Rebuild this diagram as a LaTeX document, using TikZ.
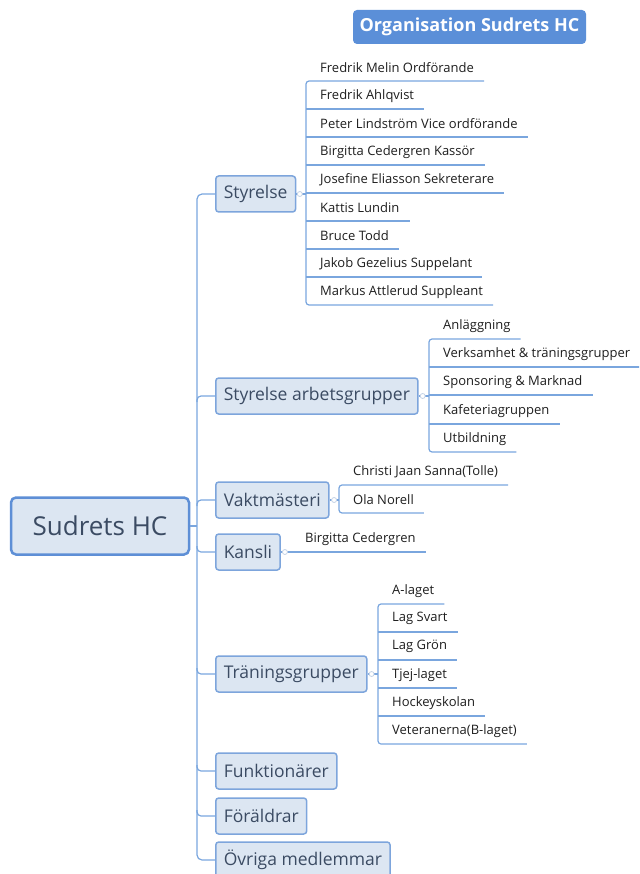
\documentclass[tikz,border=0pt]{standalone}
\usepackage{fontspec}
\setmainfont{Open Sans}
\usetikzlibrary{calc}
\definecolor{linec}{HTML}{7AA6DE}
\definecolor{boxf}{HTML}{DCE6F2}
\definecolor{boxd}{HTML}{7DA5DC}
\definecolor{rootd}{HTML}{5E8FD6}
\definecolor{titlef}{HTML}{5B8FD8}
\definecolor{btext}{HTML}{3B4B63}
\definecolor{ltext}{HTML}{1E1E1E}
\definecolor{knob}{HTML}{C5D3E6}
\begin{document}
\begin{tikzpicture}[x=1pt,y=-1pt,
 conn/.style={draw=linec, line width=1.2pt},
 branch/.style={anchor=west, draw=boxd, fill=boxf, line width=1.5pt, rounded corners=3pt, inner xsep=8pt, minimum height=36pt, font=\fontsize{17.5}{20}\selectfont, text=btext},
 leafbase/.style={anchor=south west, inner ysep=0pt, inner xsep=0pt, minimum height=26pt, font=\fontsize{13}{15}\selectfont, text=ltext, execute at end node={\hspace*{10pt}}},
 leaf/.style={leafbase, execute at begin node={\hspace*{14pt}}},
 kleaf/.style={leafbase, execute at begin node={\hspace*{10pt}}},
 knobst/.style={circle, draw=knob, fill=white, line width=0.8pt, inner sep=0pt, minimum size=5pt},
]
\useasboundingbox (0,0) rectangle (639,874);
\clip (0,0) rectangle (639,874);

% title
\node[fill=titlef, rounded corners=4pt, text=white, font=\bfseries\fontsize{18}{20}\selectfont, minimum width=233pt, minimum height=34pt, inner sep=0pt] (title) at (469.5,27) {Organisation Sudrets HC};

% root
\node[draw=rootd, line width=2.5pt, fill=boxf, rounded corners=5pt, minimum width=178pt, minimum height=57pt, font=\fontsize{26}{30}\selectfont, text=btext] (root) at (100,526) {Sudrets HC};

% branches
\node[branch] (sty) at (215,194) {Styrelse};
\node[branch] (sab) at (215,396) {Styrelse arbetsgrupper};
\node[branch] (vak) at (215,500) {Vaktmästeri};
\node[branch] (kan) at (215,552) {Kansli};
\node[branch] (tra) at (215,674) {Träningsgrupper};
\node[branch] (fun) at (215,771) {Funktionärer};
\node[branch] (for) at (215,816) {Föräldrar};
\node[branch] (ovr) at (215,860) {Övriga medlemmar};

% spine
\coordinate (sptop) at (197,194);
\coordinate (spbot) at (197,860);
\draw[conn, rounded corners=5pt] (sty.west) -- (sptop) -- (spbot) -- (ovr.west);
\draw[conn] (root.east) -- (root.east -| sptop);
\draw[conn, rounded corners=4pt] ($(sab.west -| sptop)+(0,6)$) -- (sab.west -| sptop) -- (sab.west);
\draw[conn, rounded corners=4pt] ($(vak.west -| sptop)+(0,6)$) -- (vak.west -| sptop) -- (vak.west);
\draw[conn, rounded corners=4pt] ($(kan.west -| sptop)+(0,-6)$) -- (kan.west -| sptop) -- (kan.west);
\draw[conn, rounded corners=4pt] ($(tra.west -| sptop)+(0,-6)$) -- (tra.west -| sptop) -- (tra.west);
\draw[conn, rounded corners=4pt] ($(fun.west -| sptop)+(0,-6)$) -- (fun.west -| sptop) -- (fun.west);
\draw[conn, rounded corners=4pt] ($(for.west -| sptop)+(0,-6)$) -- (for.west -| sptop) -- (for.west);

% Styrelse leaves
\node[leaf] (s1) at (306,81) {Fredrik Melin Ordförande};
\node[leaf] (s2) at (306,109) {Fredrik Ahlqvist};
\node[leaf] (s3) at (306,137) {Peter Lindström Vice ordförande};
\node[leaf] (s4) at (306,165) {Birgitta Cedergren Kassör};
\node[leaf] (s5) at (306,193) {Josefine Eliasson Sekreterare};
\node[leaf] (s6) at (306,221) {Kattis Lundin};
\node[leaf] (s7) at (306,249) {Bruce Todd};
\node[leaf] (s8) at (306,277) {Jakob Gezelius Suppelant};
\node[leaf] (s9) at (306,305) {Markus Attlerud Suppleant};
\draw[conn, rounded corners=3pt] (s1.south east) -- (s1.south west) -- (s9.south west) -- (s9.south east);
\foreach \n in {s2,s3,s4,s5,s6,s7,s8} \draw[conn] (\n.south west) -- (\n.south east);
\draw[conn] (sty.east) -- (sty.east -| s1.south west);
\node[knobst] (ks) at ($(sty.east)+(3.5,0)$) {};

% Styrelse arbetsgrupper leaves
\node[leaf] (a1) at (429,339) {Anläggning};
\node[leaf] (a2) at (429,367) {Verksamhet \& träningsgrupper};
\node[leaf] (a3) at (429,395) {Sponsoring \& Marknad};
\node[leaf] (a4) at (429,424) {Kafeteriagruppen};
\node[leaf] (a5) at (429,452) {Utbildning};
\draw[conn, rounded corners=3pt] (a1.south east) -- (a1.south west) -- (a5.south west) -- (a5.south east);
\foreach \n in {a2,a3,a4} \draw[conn] (\n.south west) -- (\n.south east);
\draw[conn] (sab.east) -- (sab.east -| a1.south west);
\node[knobst] (ka) at ($(sab.east)+(4,0)$) {};

% Vaktmästeri leaves
\node[leaf] (v1) at (339,485) {Christi Jaan Sanna(Tolle)};
\node[leaf] (v2) at (339,513) {Ola Norell};
\draw[conn, rounded corners=3pt] (v1.south east) -- (v1.south west) -- (v2.south west) -- (v2.south east);
\draw[conn] (vak.east) -- (vak.east -| v1.south west);
\node[knobst] (kv) at ($(vak.east)+(4.5,0)$) {};

% Kansli leaf
\node[kleaf] (k1) at (295,552) {Birgitta Cedergren};
\draw[conn] (kan.east) -- (k1.south west) -- (k1.south east);
\node[knobst] (kk) at ($(kan.east)+(4,0)$) {};

% Träningsgrupper leaves
\node[leaf] (t1) at (378,604) {A-laget};
\node[leaf] (t2) at (378,632) {Lag Svart};
\node[leaf] (t3) at (378,660) {Lag Grön};
\node[leaf] (t4) at (378,688) {Tjej-laget};
\node[leaf] (t5) at (378,716) {Hockeyskolan};
\node[leaf] (t6) at (378,744) {Veteranerna(B-laget)};
\draw[conn, rounded corners=3pt] (t1.south east) -- (t1.south west) -- (t6.south west) -- (t6.south east);
\foreach \n in {t2,t3,t4,t5} \draw[conn] (\n.south west) -- (\n.south east);
\draw[conn] (tra.east) -- (tra.east -| t1.south west);
\node[knobst] (kt) at ($(tra.east)+(4,0)$) {};
\end{tikzpicture}
\end{document}
